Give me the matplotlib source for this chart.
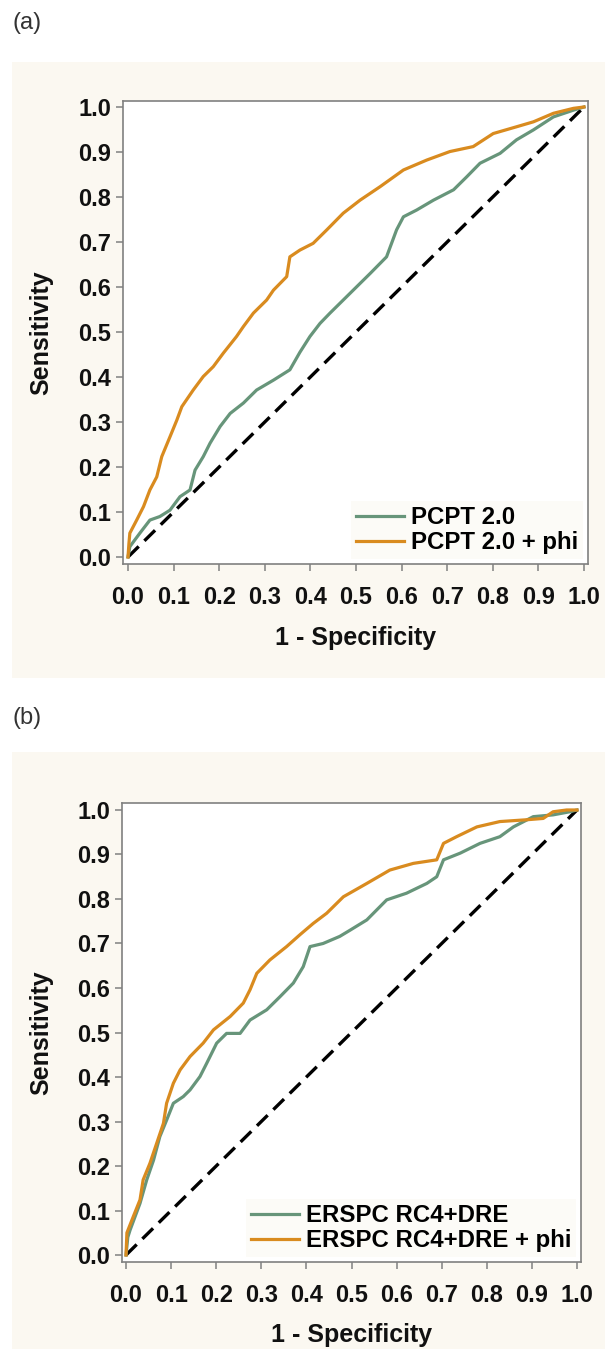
import matplotlib
matplotlib.use('Agg')
import matplotlib.pyplot as plt
from matplotlib.patches import Rectangle

plt.rcParams['font.family'] = ['Liberation Sans', 'DejaVu Sans']

# (a) PCPT 2.0 vs PCPT 2.0 + phi  (1 - specificity, sensitivity)
pcpt_x = [0, .004, .026, .048, .07, .092, .114, .136, .147, .165, .18, .202, .224, .253, .282,
          .319, .355, .377, .399, .421, .443, .465, .494, .531, .567, .589, .604, .633, .67,
          .714, .743, .772, .816, .852, .889, .933, .977, 1.0]
pcpt_y = [0, .023, .053, .082, .09, .104, .134, .149, .193, .223, .253, .29, .319, .342, .371,
          .393, .416, .455, .49, .519, .542, .564, .593, .63, .667, .727, .756, .771, .793,
          .816, .845, .875, .897, .927, .949, .978, .993, 1.0]
pcpt_phi_x = [0, .002, .004, .019, .034, .048, .063, .074, .092, .107, .118, .143, .165, .187,
              .209, .238, .253, .275, .304, .319, .348, .355, .377, .406, .436, .472, .509,
              .553, .604, .655, .706, .757, .801, .852, .889, .933, .977, 1.0]
pcpt_phi_y = [0, .03, .053, .082, .112, .149, .178, .223, .267, .304, .334, .371, .401, .423,
              .453, .49, .512, .542, .571, .593, .623, .667, .682, .697, .727, .764, .793,
              .823, .86, .882, .901, .912, .941, .956, .967, .986, .997, 1.0]

# (b) ERSPC RC4+DRE vs ERSPC RC4+DRE + phi
erspc_x = [0, .004, .009, .031, .046, .061, .075, .09, .105, .127, .142, .164, .179, .201, .223,
           .253, .275, .312, .341, .371, .393, .408, .437, .474, .497, .534, .578, .622, .667,
           .689, .704, .741, .785, .829, .859, .903, .947, .984, 1.0]
erspc_y = [0, .04, .056, .116, .169, .213, .266, .303, .341, .356, .371, .401, .431, .476, .498,
           .498, .528, .551, .58, .611, .648, .693, .70, .716, .73, .753, .798, .813, .835,
           .85, .888, .903, .925, .94, .962, .985, .989, .996, 1.0]
erspc_phi_x = [0, .002, .016, .031, .038, .053, .068, .083, .09, .105, .12, .142, .171, .194,
               .231, .26, .275, .29, .319, .356, .386, .415, .445, .482, .534, .585, .637, .689,
               .704, .733, .778, .829, .888, .925, .947, .977, 1.0]
erspc_phi_y = [0, .05, .086, .124, .169, .206, .251, .296, .341, .386, .416, .446, .476, .506,
               .536, .566, .596, .633, .663, .693, .72, .745, .768, .805, .835, .865, .88, .888,
               .925, .94, .962, .974, .978, .981, .996, 1.0, 1.0]

ticks = [0, .1, .2, .3, .4, .5, .6, .7, .8, .9, 1.0]
tick_labels = ['0.0', '0.1', '0.2', '0.3', '0.4', '0.5', '0.6', '0.7', '0.8', '0.9', '1.0']

GREEN = '#67957a'
ORANGE = '#d98b1f'
BEIGE = '#fbf8f1'
GREY = '#808080'

W, H = 605, 1349
fig = plt.figure(figsize=(W / 100, H / 100), dpi=100)
fig.patch.set_facecolor('white')


def px_box(left, top, right, bottom):
    return [left / W, 1 - bottom / H, (right - left) / W, (bottom - top) / H]


def roc_panel(box, xlim, ylim, gx, gy, ox, oy, names, ylab_x, xlab_y):
    ax = fig.add_axes(box)
    ax.plot([0, 1], [0, 1], color='black', lw=2.4, dashes=(4.5, 2.4), zorder=2)
    ax.plot(gx, gy, color=GREEN, lw=2.3, label=names[0], zorder=3)
    ax.plot(ox, oy, color=ORANGE, lw=2.3, label=names[1], zorder=4)
    ax.set_xlim(*xlim)
    ax.set_ylim(*ylim)
    ax.set_xticks(ticks)
    ax.set_xticklabels(tick_labels)
    ax.set_yticks(ticks)
    ax.set_yticklabels(tick_labels)
    for s in ax.spines.values():
        s.set_color(GREY)
        s.set_linewidth(1.2)
    ax.tick_params(axis='both', colors=GREY, labelcolor='#111111', length=5, width=1.1,
                   labelsize=17)
    ax.tick_params(axis='x', pad=11)
    ax.tick_params(axis='y', pad=3.5)
    for t in ax.get_xticklabels() + ax.get_yticklabels():
        t.set_fontweight('bold')
    ax.set_xlabel('1 - Specificity', fontsize=18, fontweight='bold', color='#111111')
    ax.set_ylabel('Sensitivity', fontsize=18, fontweight='bold', color='#111111')
    ax.xaxis.label.set_va('center')
    ax.yaxis.label.set_va('center')
    ax.xaxis.set_label_coords(0.5, xlab_y)
    ax.yaxis.set_label_coords(ylab_x, 0.5)
    leg = ax.legend(loc='lower right', bbox_to_anchor=(1.0, 0.0), frameon=True,
                    prop={'weight': 'bold', 'size': 17.3}, handlelength=2.0,
                    handletextpad=0.3, labelspacing=0.1, borderpad=0.2,
                    borderaxespad=0.2, fancybox=False)
    leg.get_frame().set_facecolor('#fcfaf5')
    leg.get_frame().set_edgecolor('none')
    return ax


# panel backgrounds
fig.add_artist(Rectangle((12 / W, 1 - 678 / H), (W - 12) / W, (678 - 62) / H,
                         transform=fig.transFigure, facecolor=BEIGE, edgecolor='none', zorder=0))
fig.add_artist(Rectangle((12 / W, 0), (W - 12) / W, (1349 - 752) / H,
                         transform=fig.transFigure, facecolor=BEIGE, edgecolor='none', zorder=0))

fig.text(13 / W, 1 - 23 / H, '(a)', fontsize=17, va='center', ha='left', color='#333333')
fig.text(13 / W, 1 - 718 / H, '(b)', fontsize=17, va='center', ha='left', color='#333333')

roc_panel(px_box(123, 101, 588, 564), (-0.011, 1.0088), (-0.0156, 1.0133),
          pcpt_x, pcpt_y, pcpt_phi_x, pcpt_phi_y, ['PCPT 2.0', 'PCPT 2.0 + phi'],
          -0.175, -0.16)
roc_panel(px_box(122, 803, 581, 1262), (-0.0089, 1.0089), (-0.0157, 1.0157),
          erspc_x, erspc_y, erspc_phi_x, erspc_phi_y,
          ['ERSPC RC4+DRE', 'ERSPC RC4+DRE + phi'], -0.175, -0.159)

fig.savefig('out.png', dpi=100)
